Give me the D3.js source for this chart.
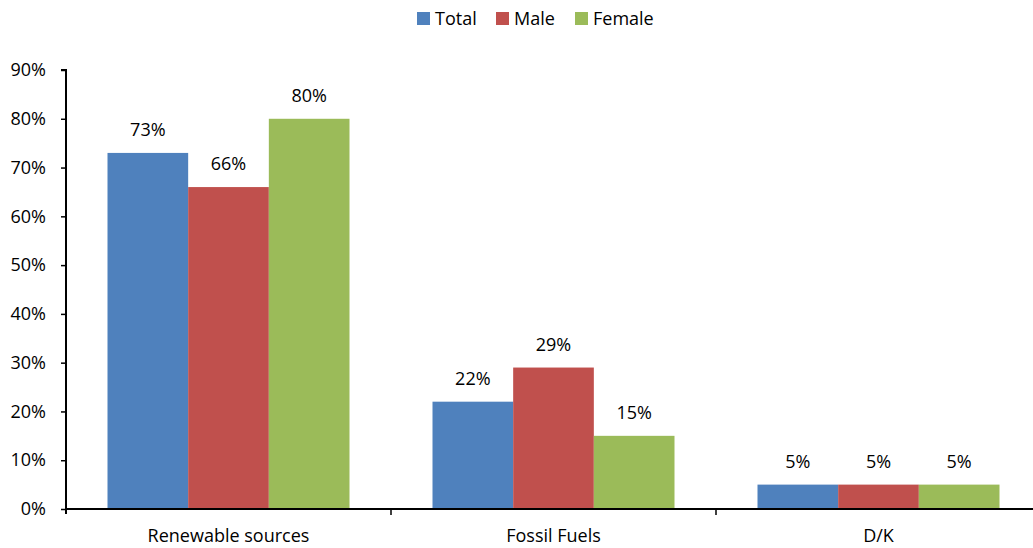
<!DOCTYPE html>
<html>
<head>
<meta charset="utf-8">
<script src="https://cdn.jsdelivr.net/npm/d3@7"></script>
<style>
  body { margin: 0; background: #fff; }
  text { font-family: "Open Sans", Lato, sans-serif; fill: #000; }
</style>
</head>
<body>
<div id="vis"></div>
<script>
var width = 1033,
    height = 548;

// data
var categories = ["Renewable sources", "Fossil Fuels", "D/K"];
var seriesNames = ["Total", "Male", "Female"];
var colors = ["#4f81bd", "#c0504d", "#9bbb59"];
var totalVals = [73, 22, 5];
var maleVals = [66, 29, 5];
var femaleVals = [80, 15, 5];
var yTicks = [0, 10, 20, 30, 40, 50, 60, 70, 80, 90];

var seriesVals = [totalVals, maleVals, femaleVals];

var fs = "18px";
var margin = {left: 66, top: 70, bottom: 39};

var svg = d3.select("#vis").append("svg")
    .attr("width", width)
    .attr("height", height);

var x = d3.scaleBand()
    .domain(categories)
    .range([margin.left, margin.left + 975])
    .paddingInner(0)
    .paddingOuter(0);

var xs = d3.scaleBand()
    .domain(seriesNames)
    .range([41.5, x.bandwidth() - 41.5]);

var y = d3.scaleLinear()
    .domain([0, 90])
    .range([height - margin.bottom, margin.top]);

// bars
categories.forEach(function(c, ci) {
    var g = svg.append("g").attr("transform", "translate(" + x(c) + ",0)");
    seriesNames.forEach(function(s, si) {
        var v = seriesVals[si][ci];
        g.append("rect")
            .attr("x", xs(s))
            .attr("y", y(v))
            .attr("width", xs.bandwidth())
            .attr("height", y(0) - y(v))
            .attr("fill", colors[si]);
        g.append("text")
            .attr("x", xs(s) + xs.bandwidth() / 2)
            .attr("y", y(v) - 17)
            .attr("text-anchor", "middle")
            .style("font-size", fs)
            .text(v + "%");
    });
});

// y axis
var yAxis = svg.append("g")
    .attr("transform", "translate(" + margin.left + ",0)")
    .call(d3.axisLeft(y).tickValues(yTicks).tickSize(5).tickPadding(15)
        .tickFormat(function(d) { return d + "%"; }));
yAxis.select(".domain").attr("stroke", "#000").attr("stroke-width", 2)
    .attr("d", "M-5," + y(90) + "H0V" + (y(0) + 5));
yAxis.selectAll(".tick line").attr("stroke", "#000").attr("stroke-width", 1.5);
yAxis.selectAll(".tick text").style("font-size", fs).style("font-family", "'Open Sans', Lato, sans-serif");

// x axis
var xAxis = svg.append("g")
    .attr("transform", "translate(0," + y(0) + ")");
xAxis.append("line")
    .attr("x1", margin.left).attr("x2", width)
    .attr("stroke", "#000").attr("stroke-width", 2);
xAxis.selectAll(".xt")
    .data(categories.slice(1))
    .enter().append("line")
    .attr("x1", function(d) { return x(d); })
    .attr("x2", function(d) { return x(d); })
    .attr("y1", 0).attr("y2", 6)
    .attr("stroke", "#000").attr("stroke-width", 1.5);
xAxis.selectAll(".xl")
    .data(categories)
    .enter().append("text")
    .attr("x", function(d) { return x(d) + x.bandwidth() / 2; })
    .attr("y", 33)
    .attr("text-anchor", "middle")
    .style("font-size", fs)
    .text(function(d) { return d; });

// legend
var legendX = [417, 496, 575];
var legend = svg.append("g");
seriesNames.forEach(function(s, i) {
    legend.append("rect")
        .attr("x", legendX[i]).attr("y", 12)
        .attr("width", 13).attr("height", 13)
        .attr("fill", colors[i]);
    legend.append("text")
        .attr("x", legendX[i] + 18).attr("y", 25)
        .style("font-size", fs)
        .text(s);
});
</script>
</body>
</html>
